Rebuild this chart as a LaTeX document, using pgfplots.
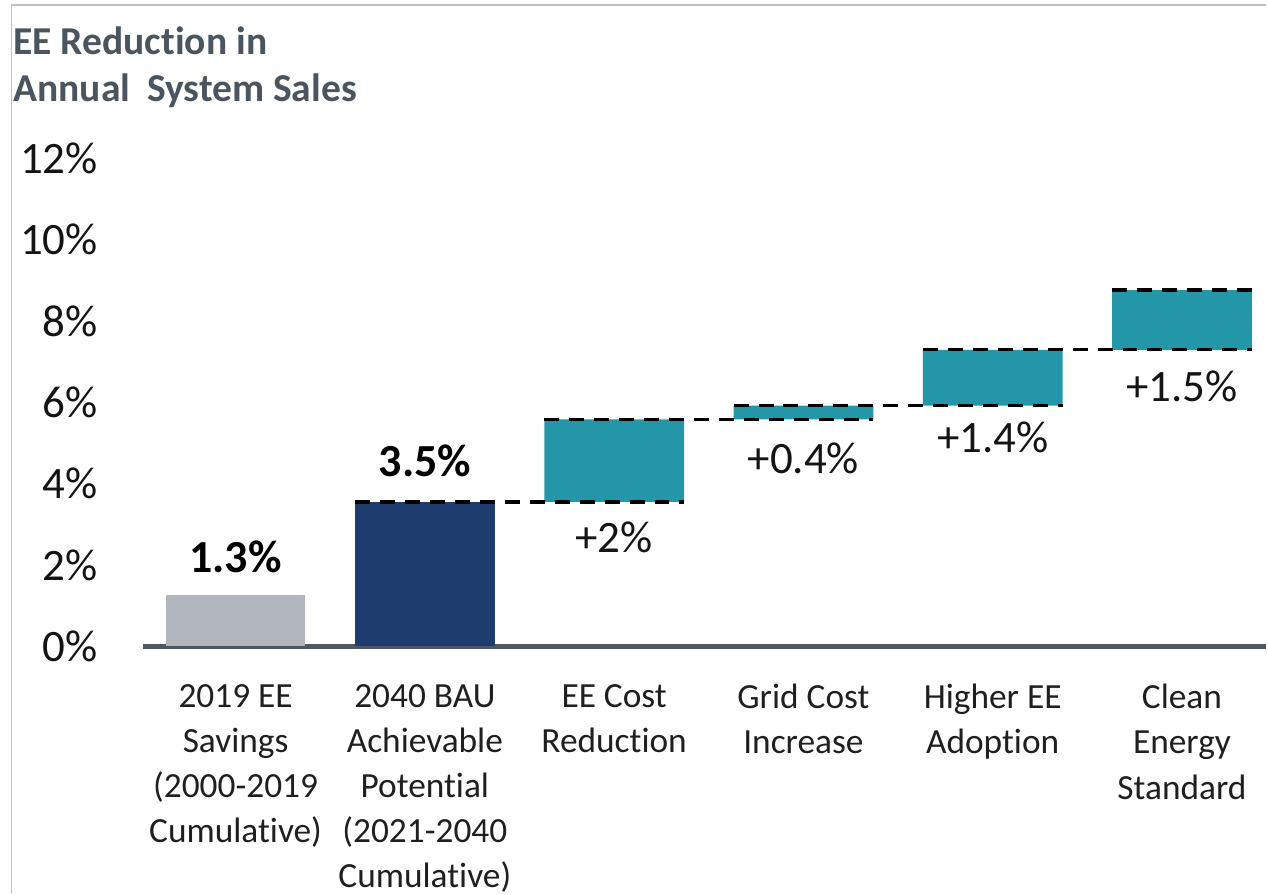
\documentclass[border=0pt]{standalone}
\usepackage{fontspec}
\setmainfont{Carlito}[Ligatures={NoCommon}, Contextuals={NoAlternate}, RawFeature={-liga,-clig}]
\usepackage{pgfplots}
\pgfplotsset{compat=1.18}

\definecolor{barGray}{HTML}{B1B6BD}
\definecolor{barNavy}{HTML}{1E3C6E}
\definecolor{barTeal}{HTML}{2397A8}
\definecolor{axisGray}{HTML}{4F5862}
\definecolor{titleGray}{HTML}{4B555F}
\definecolor{frameGray}{HTML}{C0C0C0}

\pgfplotsset{
  frame/.style={scale only axis, width=562.35pt, height=244.5pt,
    xmin=-0.489, xmax=5.443, ymin=0, ymax=12, clip=false},
  connector/.style={black, line width=1.6pt, dash pattern=on 7.5pt off 5pt},
}

\begin{document}
\begin{tikzpicture}
\begin{axis}[
  frame,
  ybar stacked, bar width=70pt,
  axis x line=bottom, axis y line=left,
  axis line style={-},
  x axis line style={draw=axisGray, line width=2.2pt},
  y axis line style={draw=none},
  major tick length=0pt, tick style={draw=none},
  xtick={0,1,2,3,4,5},
  xticklabels={
    {2019 EE\\Savings\\(2000-2019\\Cumulative)},
    {2040 BAU\\Achievable\\Potential\\(2021-2040\\Cumulative)},
    {EE Cost\\Reduction},
    {Grid Cost\\Increase},
    {Higher EE\\Adoption},
    {Clean\\Energy\\Standard}},
  xticklabel style={font=\fontsize{17.7}{22.6}\selectfont, align=center,
    anchor=north, inner sep=0pt, yshift=-18.75pt, text=black!88},
  ytick={0,2,4,6,8,10,12},
  yticklabels={0\%,2\%,4\%,6\%,8\%,10\%,12\%},
  yticklabel style={font=\fontsize{22.5}{27}\selectfont, anchor=east,
    inner sep=0pt, xshift=-22.5pt, text=black!92},
]
% invisible base of the floating bars
\addplot[draw=none, fill=none] coordinates {
  (0,0) (1,0) (2,3.55) (3,5.58) (4,5.92) (5,7.29)};
\addplot[draw=none, fill=barGray] coordinates {
  (0,1.27) (1,0) (2,0) (3,0) (4,0) (5,0)};
\addplot[draw=none, fill=barNavy] coordinates {
  (0,0) (1,3.55) (2,0) (3,0) (4,0) (5,0)};
\addplot[draw=none, fill=barTeal] coordinates {
  (0,0) (1,0) (2,2.03) (3,0.34) (4,1.37) (5,1.47)};
\end{axis}

\begin{axis}[frame, hide axis]
% connector lines
\addplot[connector] coordinates {(0.631,3.55) (2.369,3.55)};
\addplot[connector] coordinates {(1.631,5.58) (3.369,5.58)};
\addplot[connector] coordinates {(2.631,5.92) (4.369,5.92)};
\addplot[connector] coordinates {(3.631,7.29) (5.369,7.29)};
\addplot[connector] coordinates {(4.631,8.76) (5.369,8.76)};

% value labels
\addplot[draw=none, mark=none,
  nodes near coords, point meta=explicit symbolic,
  nodes near coords style={anchor=center, inner sep=0pt, text=black,
    font=\bfseries\fontsize{23}{27}\selectfont}]
  coordinates {(0,2.21)[1.3\%] (1,4.55)[3.5\%]};
\addplot[draw=none, mark=none,
  nodes near coords, point meta=explicit symbolic,
  nodes near coords style={anchor=center, inner sep=0pt, text=black!92,
    font=\fontsize{22.5}{27}\selectfont}]
  coordinates {(2,2.69)[+2\%] (3,4.63)[+0.4\%] (4,5.13)[+1.4\%] (5,6.40)[+1.5\%]};

% slide frame, page margin and title
\path (axis cs:-1.2447,15.89) rectangle (axis cs:5.443,-6.07);
\draw[frameGray, line width=0.75pt]
  (axis cs:-1.184,-6.07) -- (axis cs:-1.184,15.77) -- (axis cs:5.443,15.77);
\node[anchor=base west, inner sep=0pt, text=titleGray,
  font=\bfseries\fontsize{19.8}{24}\selectfont] at (axis cs:-1.176,14.54) {EE Reduction in};
\node[anchor=base west, inner sep=0pt, text=titleGray,
  font=\bfseries\fontsize{19.8}{24}\selectfont] at (axis cs:-1.176,13.39) {Annual\hspace{0.2em} System Sales};
\end{axis}
\end{tikzpicture}
\end{document}
